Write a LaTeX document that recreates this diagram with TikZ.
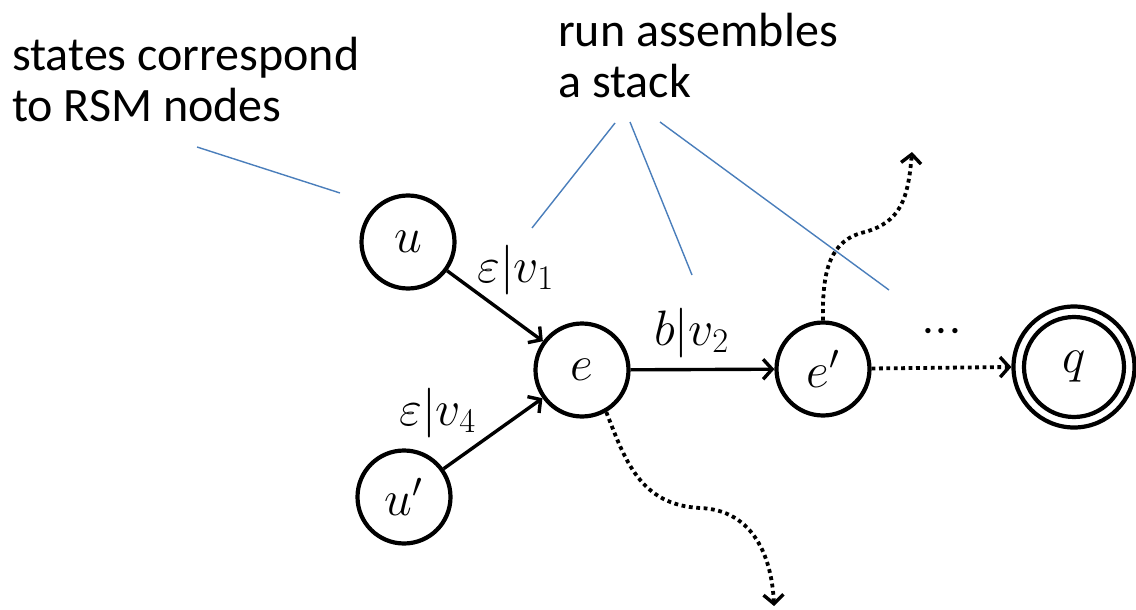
\documentclass[tikz,border=0pt]{standalone}
\usepackage{graphicx}
\usepackage{fontspec}
\setmainfont{Carlito}
\usetikzlibrary{arrows.meta}
\definecolor{callout}{HTML}{4A7EBB}
% math set at 24pt and enlarged, since the math fonts stop at 24.88pt
\newcommand\bigmath[1]{\scalebox{2}{\fontsize{24}{26}\selectfont$#1$}}
\begin{document}
\begin{tikzpicture}[x=1pt,y=-1pt,
  >={Straight Barb[length=9pt,width=20pt,line width=3.4pt]},
  state/.style={circle,draw,line width=4.2pt,minimum size=93pt,inner sep=0pt},
  edge/.style={line width=3.4pt,->},
  dotedge/.style={line width=3.8pt,dash pattern=on 3.8pt off 3.6pt,->},
  lbl/.style={inner sep=0pt,anchor=base west},
  note/.style={font=\fontsize{48}{51}\selectfont,align=left,inner sep=0pt,anchor=north west},
  pointer/.style={draw=callout,line width=1.4pt}]
\useasboundingbox (0,0) rectangle (1136,610);

% states
\node[state] (u)  at (408,242) {\bigmath{u}};
\node[state] (e)  at (582,370) {\bigmath{e}};
\node[state] (up) at (404,497) {\bigmath{u'}};
\node[state] (ep) at (823,369) {\bigmath{e'}};
\node[state,minimum size=121pt] (q) at (1074,367) {};
\node[state,minimum size=100pt] (qi) at (q.center) {\bigmath{q}};

% transitions
\draw[edge] (u) -- (e);
\draw[edge] (up) -- (e);
\draw[edge] (e) -- (ep);
\draw[dotedge] (ep) -- (q.west);

\node[lbl] (l1) at (477,282) {\bigmath{\varepsilon|v_1}};
\node[lbl] (l4) at (399,425) {\bigmath{\varepsilon|v_4}};
\node[lbl] (l2) at (654,345) {\bigmath{b|v_2}};
\node[lbl] (dots) at (921,343) {\bigmath{{\cdot}{\cdot}{\cdot}}};

% open continuations
\coordinate (upend) at (912,152);
\coordinate (downend) at (774,606);
\draw[dotedge] (ep.north) .. controls (822,270) and (830,240) .. (865,232)
  .. controls (900,222) and (908,200) .. (upend);
\draw[dotedge] (e.-60) .. controls (625,460) and (640,505) .. (700,508)
  .. controls (755,510) and (772,560) .. (downend);

% annotations
\node[note] (t1) at (12,37) {states correspond\\to RSM nodes};
\node[note] (t2) at (558,13) {run assembles\\a stack};

\coordinate (p1) at (197,147);
\coordinate (p1e) at (340,193);
\coordinate (s1) at (615,123);
\coordinate (s2) at (630,122);
\coordinate (s3) at (660,122);
\coordinate (s1e) at (532,228);
\coordinate (s2e) at (692,275);
\coordinate (s3e) at (889,290);
\draw[pointer] (p1) -- (p1e);
\draw[pointer] (s1) -- (s1e);
\draw[pointer] (s2) -- (s2e);
\draw[pointer] (s3) -- (s3e);
\end{tikzpicture}
\end{document}
